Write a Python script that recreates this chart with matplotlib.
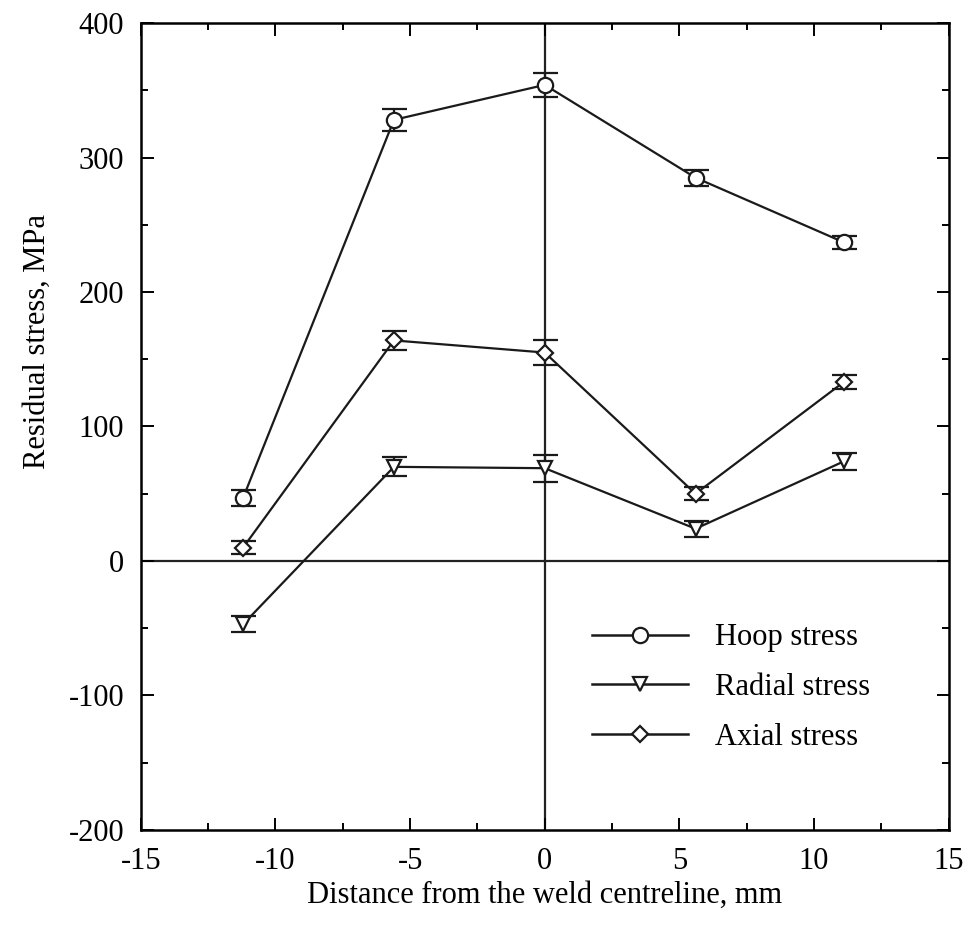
import numpy as np
import matplotlib
matplotlib.use('Agg')
import matplotlib.pyplot as plt
from matplotlib.ticker import MultipleLocator
from matplotlib.lines import Line2D

plt.rcParams['font.family'] = ['Liberation Serif', 'DejaVu Serif']
plt.rcParams['axes.unicode_minus'] = False

# positions across the weld (mm)
dist = [-11.2, -5.6, 0.0, 5.6, 11.1]

hoop = [47, 328, 354, 285, 237]
hoop_err = [6, 8, 9, 6, 5]

radial = [-47, 70, 69, 24, 74]
radial_err = [6, 7, 10, 6, 6]

axial = [10, 164, 155, 50, 133]
axial_err = [5, 7, 9, 5, 5]

labels = ['Hoop stress', 'Radial stress', 'Axial stress']

fig = plt.figure(figsize=(9.71, 9.44), dpi=100)
ax = fig.add_axes([0.145, 0.1208, 0.832, 0.8548])

ax.axhline(0, color='#222222', lw=1.6, zorder=1)
ax.axvline(0, color='#222222', lw=1.6, zorder=1)

series = [(hoop, hoop_err, 'o', 11), (radial, radial_err, 'v', 10), (axial, axial_err, 'D', 8.5)]
handles = []
for (vals, err, mk, ms), lab in zip(series, labels):
    ax.errorbar(dist, vals, yerr=err, color='#1a1a1a', lw=1.6,
                marker=mk, ms=ms, mfc='white', mec='#1a1a1a', mew=1.6,
                capsize=9, capthick=2, elinewidth=1.6, zorder=3)
    handles.append(Line2D([], [], color='#1a1a1a', lw=1.8, marker=mk, ms=ms,
                          mfc='white', mec='#1a1a1a', mew=1.6))

ax.set_xlim(-15, 15)
ax.set_ylim(-200, 400)
ax.xaxis.set_major_locator(MultipleLocator(5))
ax.xaxis.set_minor_locator(MultipleLocator(2.5))
ax.yaxis.set_major_locator(MultipleLocator(100))
ax.yaxis.set_minor_locator(MultipleLocator(50))
ax.tick_params(which='both', direction='in', top=True, right=True, width=1.4,
               labelsize=22)
ax.tick_params(axis='x', pad=12)
ax.tick_params(axis='y', pad=12)
ax.tick_params(which='major', length=9)
ax.tick_params(which='minor', length=5)
for s in ax.spines.values():
    s.set_linewidth(1.8)

ax.set_xlabel('Distance from the weld centreline, mm', fontsize=22, labelpad=4)
ax.set_ylabel('Residual stress, MPa', fontsize=22, labelpad=10)
ax.yaxis.set_label_coords(-0.11, 0.605)

ax.legend(handles=handles, labels=labels, loc='upper left',
          bbox_to_anchor=(0.558, 0.256), frameon=False, fontsize=22,
          borderpad=0, borderaxespad=0,
          handlelength=3.15, handletextpad=0.88, labelspacing=0.68)

fig.savefig('out.png', dpi=100)
